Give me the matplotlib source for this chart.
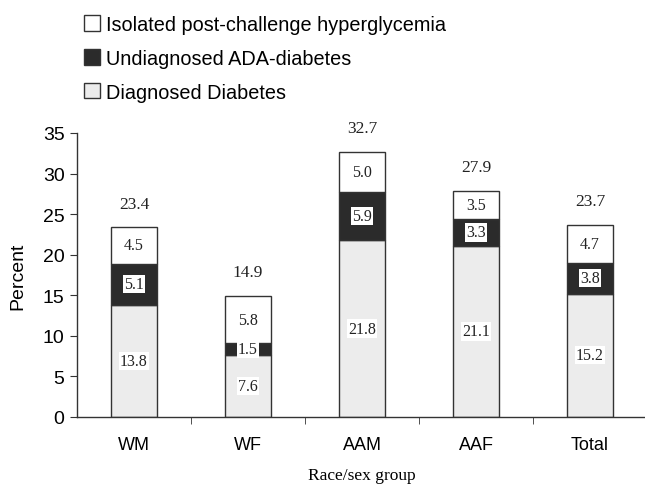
import matplotlib.pyplot as plt
import matplotlib.patches as patches
import numpy as np

groups = ['WM', 'WF', 'AAM', 'AAF', 'Total']
diagnosed = [13.8, 7.6, 21.8, 21.1, 15.2]
undiagnosed = [5.1, 1.5, 5.9, 3.3, 3.8]
isolated = [4.5, 5.8, 5.0, 3.5, 4.7]
totals = [23.4, 14.9, 32.7, 27.9, 23.7]

sans = 'Liberation Sans'
serif = 'Liberation Serif'

fig = plt.figure(figsize=(6.45, 4.85), dpi=100)
ax = fig.add_axes([77/645, 67/485, 570/645, 284/485])

x = np.arange(len(groups))
w = 0.40
edge = '#333333'
ax.bar(x, diagnosed, w, color='#ececec', edgecolor=edge, lw=1.0, zorder=2)
ax.bar(x, undiagnosed, w, bottom=diagnosed, color='#2b2b2b', edgecolor=edge, lw=1.0, zorder=2)
base3 = np.array(diagnosed) + np.array(undiagnosed)
ax.bar(x, isolated, w, bottom=base3, color='white', edgecolor=edge, lw=1.0, zorder=2)

box = dict(facecolor='white', edgecolor='none', pad=0.8)
for i in range(len(groups)):
    ax.text(x[i], diagnosed[i] / 2, f'{diagnosed[i]:.1f}', ha='center', va='center',
            family=serif, fontsize=11.5, color='#222222', bbox=box, zorder=3)
    ax.text(x[i], diagnosed[i] + undiagnosed[i] / 2, f'{undiagnosed[i]:.1f}', ha='center', va='center',
            family=serif, fontsize=11.5, color='#222222', bbox=box, zorder=3)
    ax.text(x[i], base3[i] + isolated[i] / 2, f'{isolated[i]:.1f}', ha='center', va='center',
            family=serif, fontsize=11.5, color='#222222', zorder=3)
    ax.annotate(f'{totals[i]:.1f}', (x[i], totals[i]), xytext=(0, 17), textcoords='offset points',
                ha='center', va='center', family=serif, fontsize=12.5, color='#222222')

ax.set_xlim(-0.5, 4.5)
ax.set_ylim(0, 35)
ax.set_yticks(np.arange(0, 36, 5))
ax.set_yticklabels([str(v) for v in range(0, 36, 5)], family=sans, fontsize=14)
ax.set_xticks(x)
ax.set_xticklabels(groups, family=sans, fontsize=13)
ax.tick_params(axis='x', length=0, pad=14)
ax.set_xticks(np.arange(0.5, 4.5, 1), minor=True)
ax.tick_params(axis='x', which='minor', length=5, direction='out', color='#333333')
ax.tick_params(axis='y', length=5, direction='out', color='#333333', pad=4)
for s in ['top', 'right']:
    ax.spines[s].set_visible(False)
for s in ['left', 'bottom']:
    ax.spines[s].set_color('#333333')
    ax.spines[s].set_linewidth(1.0)

ax.set_ylabel('Percent', family=sans, fontsize=14, labelpad=12)
ax.set_xlabel('Race/sex group', family=serif, fontsize=12.5, labelpad=10)

handles = [patches.Patch(facecolor='white', edgecolor='#333333', lw=1),
           patches.Patch(facecolor='#2b2b2b', edgecolor='#333333', lw=1),
           patches.Patch(facecolor='#ececec', edgecolor='#333333', lw=1)]
labels = ['Isolated post-challenge hyperglycemia', 'Undiagnosed ADA-diabetes', 'Diagnosed Diabetes']
fig.legend(handles, labels, loc='upper left', bbox_to_anchor=(76/645, 1 - 8/485),
           frameon=False, prop={'family': sans, 'size': 14.3}, handlelength=0.8, handleheight=0.8,
           handletextpad=0.3, labelspacing=0.75, borderaxespad=0)

fig.savefig('out.png', dpi=100)
